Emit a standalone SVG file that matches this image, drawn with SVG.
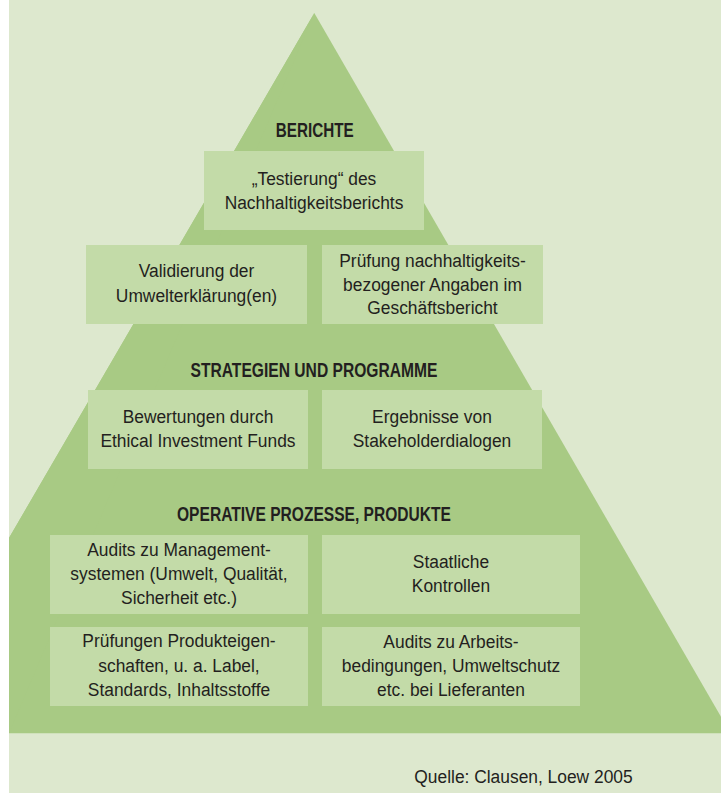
<svg xmlns="http://www.w3.org/2000/svg" width="721" height="793" viewBox="0 0 721 793">
<style>
.bg{fill:#dde8ce}
.pyr{fill:#a8ca84}
.box{fill:#c3dba8}
.t{font-family:"Liberation Sans",Arial,sans-serif;font-size:19px;fill:#231f20;text-anchor:middle;transform-box:fill-box;transform-origin:center;transform:scaleX(0.915)}
.h{font-family:"Liberation Sans",Arial,sans-serif;font-size:19.5px;font-weight:bold;fill:#231f20;text-anchor:middle}
</style>
<rect x="0" y="0" width="721" height="793" fill="#ffffff"/>
<rect class="bg" x="9" y="0" width="712" height="793"/>
<g id="pyramid">
<polygon class="pyr" points="314.3,13 730.5,733.3 9,733.3 9,538"/>
<polygon class="pyr" points="314.3,13 9,538 9,733.3"/>
</g>
<g id="headings">
<text id="h-berichte" class="h" x="314.7" y="137.3" textLength="78" lengthAdjust="spacingAndGlyphs">BERICHTE</text>
<text id="h-strategien" class="h" x="314" y="377.3" textLength="247" lengthAdjust="spacingAndGlyphs">STRATEGIEN UND PROGRAMME</text>
<text id="h-operative" class="h" x="314" y="520.7" textLength="274" lengthAdjust="spacingAndGlyphs">OPERATIVE PROZESSE, PRODUKTE</text>
</g>
<g id="n-testierung">
<rect class="box" x="204" y="151" width="220" height="79"/>
<text class="t" x="314" y="185">„Testierung“ des</text>
<text class="t" x="314" y="209">Nachhaltigkeitsberichts</text>
</g>
<g id="n-validierung">
<rect class="box" x="86" y="245" width="221" height="79"/>
<text class="t" x="196.5" y="277.5">Validierung der</text>
<text class="t" x="196.5" y="301.8">Umwelterklärung(en)</text>
</g>
<g id="n-pruefung">
<rect class="box" x="322" y="245" width="221" height="79"/>
<text class="t" x="432.5" y="266.7">Prüfung nachhaltigkeits-</text>
<text class="t" x="432.5" y="290.7">bezogener Angaben im</text>
<text class="t" x="432.5" y="314.3">Geschäftsbericht</text>
</g>
<g id="n-bewertungen">
<rect class="box" x="88" y="390" width="220" height="79"/>
<text class="t" x="198" y="422.7">Bewertungen durch</text>
<text class="t" x="198" y="446.7">Ethical Investment Funds</text>
</g>
<g id="n-ergebnisse">
<rect class="box" x="322" y="390" width="220" height="79"/>
<text class="t" x="432" y="422.7">Ergebnisse von</text>
<text class="t" x="432" y="446.7">Stakeholderdialogen</text>
</g>
<g id="n-audits-management">
<rect class="box" x="50" y="535" width="258" height="79"/>
<text class="t" x="179" y="555.7">Audits zu Management-</text>
<text class="t" x="179" y="580">systemen (Umwelt, Qualität,</text>
<text class="t" x="179" y="604">Sicherheit etc.)</text>
</g>
<g id="n-staatliche">
<rect class="box" x="322" y="535" width="258" height="79"/>
<text class="t" x="451" y="568.3">Staatliche</text>
<text class="t" x="451" y="591.7">Kontrollen</text>
</g>
<g id="n-pruefungen">
<rect class="box" x="50" y="627" width="258" height="79"/>
<text class="t" x="179" y="647.3">Prüfungen Produkteigen-</text>
<text class="t" x="179" y="671.7">schaften, u. a. Label,</text>
<text class="t" x="179" y="695.7">Standards, Inhaltsstoffe</text>
</g>
<g id="n-audits-arbeit">
<rect class="box" x="322" y="627" width="258" height="79"/>
<text class="t" x="451" y="648.3">Audits zu Arbeits-</text>
<text class="t" x="451" y="672.5">bedingungen, Umweltschutz</text>
<text class="t" x="451" y="695.7">etc. bei Lieferanten</text>
</g>
<g id="connectors"></g>
<g id="source">
<text class="t" x="523.5" y="783.3">Quelle: Clausen, Loew 2005</text>
</g>
</svg>
